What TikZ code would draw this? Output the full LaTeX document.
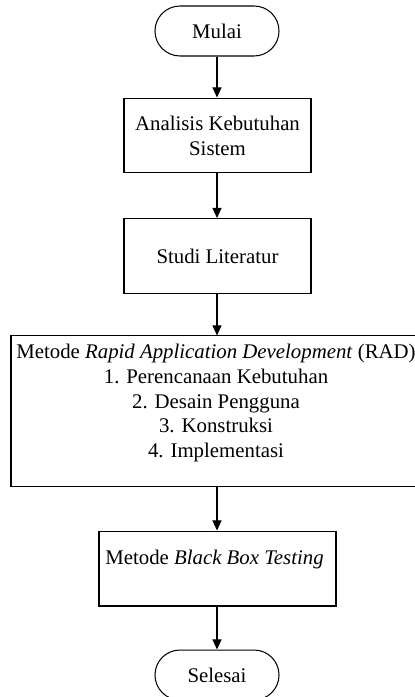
\documentclass[tikz,border=0pt]{standalone}
\usepackage{fontspec}
\setmainfont{Liberation Serif}
\usetikzlibrary{arrows.meta}
\begin{document}
\begin{tikzpicture}[x=0.5764pt,y=-0.5764pt,
  every node/.style={font=\fontsize{12}{14.4}\selectfont},
  term/.style={draw, line width=0.6pt, rounded corners=14.4pt, minimum width=71.5pt, minimum height=28.8pt, inner sep=0pt},
  procbox/.style={draw, line width=0.6pt, minimum width=107.8pt, minimum height=43.2pt, inner sep=0pt, align=center},
  bigbox/.style={draw, line width=0.6pt, minimum width=237.5pt, minimum height=86.5pt, inner sep=0pt},
  txt/.style={inner sep=0pt, align=center},
  flow/.style={-{Triangle[length=5.8pt,width=5.2pt]}, line width=0.6pt}]
\path[use as bounding box] (0,0) rectangle (415,697);
\clip (0,0) rectangle (415,697);
\node[term] (mulai) at (217,31) {Mulai};
\node[procbox] (ana) at (217.5,135.5) {Analisis Kebutuhan\\Sistem};
\node[procbox] (studi) at (217.5,256) {Studi Literatur};
\node[bigbox] (rad) at (217,411) {};
\node[txt] (radtext) at (216,403) {Metode \textit{Rapid Application Development} (RAD)\\1. Perencanaan Kebutuhan\\2. Desain Pengguna\\3. Konstruksi\\4. Implementasi};
\node[procbox, minimum width=136.6pt] (bb) at (217.5,568.5) {};
\node[txt] (bbtext) at (214.5,559.5) {Metode \textit{Black Box Testing}};
\node[term] (selesai) at (217,675) {Selesai};
\draw[flow] (mulai.south) -- (ana.north -| mulai.south);
\draw[flow] (ana.south -| mulai.south) -- (studi.north -| mulai.south);
\draw[flow] (studi.south -| mulai.south) -- (rad.north -| mulai.south);
\draw[flow] (rad.south -| mulai.south) -- (bb.north -| mulai.south);
\draw[flow] (bb.south -| mulai.south) -- (selesai.north);
\end{tikzpicture}
\end{document}
